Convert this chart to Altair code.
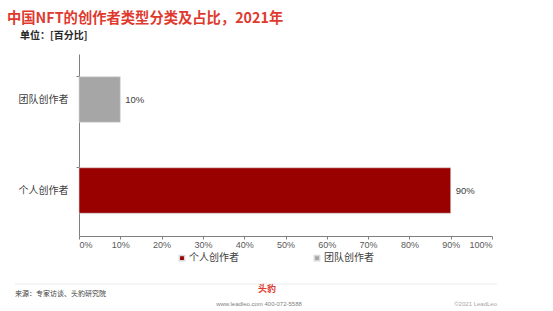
import altair as alt
import pandas as pd

categories = ["团队创作者", "个人创作者"]
shares = [0.10, 0.90]
legend_order = ["个人创作者", "团队创作者"]
legend_colors = ["#990000", "#A6A6A6"]
x_ticks = [0, 0.1, 0.2, 0.3, 0.4, 0.5, 0.6, 0.7, 0.8, 0.9, 1.0]

title_text = "中国NFT的创作者类型分类及占比，2021年"
unit_text = "单位：[百分比]"
source_text = "来源：专家访谈、头豹研究院"
logo_text = "头豹"
contact_text = "www.leadleo.com   400-072-5588"
copyright_text = "©2021 LeadLeo"

df = pd.DataFrame({"cat": categories, "share": shares})

FONT = "Noto Sans CJK SC"

y_enc = alt.Y("cat:N", sort=categories, title=None,
              scale=alt.Scale(paddingInner=0.5, paddingOuter=0.25),
              axis=alt.Axis(bandPosition=0, labelFont=FONT, labelFontSize=10,
                            labelColor="#404040", labelPadding=8, tickSize=3,
                            domainColor="#7F7F7F", tickColor="#7F7F7F", grid=False))
x_enc = alt.X("share:Q", title=None,
              scale=alt.Scale(domain=[0, 1], nice=False),
              axis=alt.Axis(values=x_ticks, format=".0%", labelFont="Liberation Sans",
                            labelFontSize=9, labelColor="#595959", tickSize=3,
                            domainColor="#7F7F7F", tickColor="#7F7F7F", grid=False,
                            labelPadding=1))

bars = alt.Chart(df).mark_bar(stroke="#D9D9D9", strokeWidth=0.6).encode(
    x=x_enc, y=y_enc,
    color=alt.Color("cat:N",
                    scale=alt.Scale(domain=legend_order, range=legend_colors),
                    legend=alt.Legend(orient="none", legendX=98, legendY=199,
                                      direction="horizontal", title=None,
                                      symbolType="square", symbolSize=28,
                                      labelFont=FONT, labelFontSize=10,
                                      labelColor="#404040", columnPadding=72,
                                      symbolOffset=0, labelOffset=2)),
)

labels = alt.Chart(df).mark_text(align="left", dx=5, font="Liberation Sans",
                                 fontSize=9.5, color="#404040").encode(
    x="share:Q", y=alt.Y("cat:N", sort=categories),
    text=alt.Text("share:Q", format=".0%"),
)

one = pd.DataFrame({"t": [0]})

title = alt.Chart(one).mark_text(text=title_text, align="left", baseline="alphabetic",
                                 font=FONT, fontSize=14.3, fontWeight="bold",
                                 color="#E03A2F").encode(x=alt.value(-72), y=alt.value(-31))
unit = alt.Chart(one).mark_text(text=unit_text, align="left", baseline="alphabetic",
                                font=FONT, fontSize=10, fontWeight="bold",
                                color="#262626").encode(x=alt.value(-59), y=alt.value(-15))
rule = alt.Chart(one).mark_rule(color="#E6E6E6", strokeWidth=0.8).encode(
    x=alt.value(-64), x2=alt.value(418), y=alt.value(230))
source = alt.Chart(one).mark_text(text=source_text, align="left", baseline="middle",
                                  font=FONT, fontSize=7, color="#404040").encode(
    x=alt.value(-64), y=alt.value(240))
logo = alt.Chart(one).mark_text(text=logo_text, align="center", baseline="middle",
                                font=FONT, fontSize=9, fontWeight="bold",
                                color="#E03A2F").encode(x=alt.value(188), y=alt.value(235))
contact = alt.Chart(one).mark_text(text=contact_text, align="center", baseline="middle",
                                   font="Liberation Sans", fontSize=6, color="#7F7F7F").encode(
    x=alt.value(180), y=alt.value(250))
copyright_ = alt.Chart(one).mark_text(text=copyright_text, align="right", baseline="middle",
                                      font="Liberation Sans", fontSize=6, color="#A6A6A6").encode(
    x=alt.value(418), y=alt.value(250))

chart = alt.layer(bars, labels, title, unit, rule, source, logo, contact, copyright_).properties(
    width=413, height=182,
    autosize=alt.AutoSizeParams(type="none"),
    padding={"left": 79, "top": 54, "right": 61, "bottom": 75},
    background="white",
).configure_view(stroke=None)

chart.save("out.html", embed_options={"renderer": "svg", "actions": False})
